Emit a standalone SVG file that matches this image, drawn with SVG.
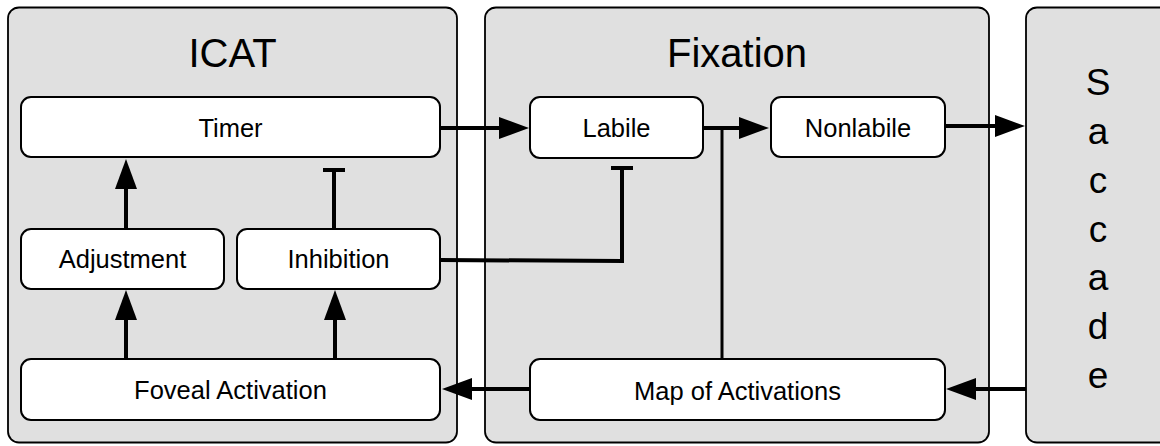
<svg xmlns="http://www.w3.org/2000/svg" width="1160" height="446" viewBox="0 0 1160 446">
  <style>
    .panel { fill: #e0e0e0; stroke: #000; stroke-width: 1.8; }
    .node { fill: #fff; stroke: #000; stroke-width: 2; }
    .title { font-family: "Liberation Sans", Arial, Helvetica, sans-serif; font-size: 40px; fill: #000; text-anchor: middle; }
    .letters { font-family: "Liberation Sans", Arial, Helvetica, sans-serif; font-size: 37px; fill: #000; text-anchor: middle; }
    .label { font-family: "Liberation Sans", Arial, Helvetica, sans-serif; font-size: 25.5px; fill: #000; text-anchor: middle; }
    .wire { fill: none; stroke: #000; stroke-width: 4; }
    .excite { marker-end: url(#arrow); }
    .inhibit { marker-end: url(#bar); }
  </style>
  <defs>
    <marker id="arrow" markerUnits="userSpaceOnUse" markerWidth="30" markerHeight="22" refX="2" refY="11" orient="auto" overflow="visible">
      <path d="M0,0 L30,11 L0,22 z" fill="#000"/>
    </marker>
    <marker id="bar" markerUnits="userSpaceOnUse" markerWidth="4" markerHeight="22" refX="2" refY="11" orient="auto" overflow="visible">
      <path d="M0,0 H4 V22 H0 z" fill="#000"/>
    </marker>
  </defs>

  <!-- panels -->
  <g id="icat">
    <rect class="panel" x="8" y="7.5" width="449" height="435" rx="11"/>
    <text class="title" x="232.5" y="66.5">ICAT</text>
  </g>
  <g id="fixation">
    <rect class="panel" x="485" y="7.5" width="504" height="435" rx="11"/>
    <text class="title" x="737" y="66.5">Fixation</text>
  </g>
  <g id="saccade">
    <rect class="panel" x="1026" y="7.5" width="150" height="435" rx="11"/>
    <!-- one letter per line, stacked vertically -->
    <text class="letters" x="1098" y="95">S</text>
    <text class="letters" x="1098" y="144">a</text>
    <text class="letters" x="1098" y="193">c</text>
    <text class="letters" x="1098" y="242">c</text>
    <text class="letters" x="1098" y="290">a</text>
    <text class="letters" x="1098" y="339">d</text>
    <text class="letters" x="1098" y="388">e</text>
  </g>

  <!-- ICAT nodes -->
  <g id="timer">
    <rect class="node" x="21" y="97" width="419" height="60" rx="10"/>
    <text class="label" x="230.5" y="136.5">Timer</text>
  </g>
  <g id="adjustment">
    <rect class="node" x="21" y="229" width="203" height="60" rx="10"/>
    <text class="label" x="122.5" y="267.5">Adjustment</text>
  </g>
  <g id="inhibition">
    <rect class="node" x="237" y="229" width="203" height="60" rx="10"/>
    <text class="label" x="338.5" y="267.5">Inhibition</text>
  </g>
  <g id="foveal-activation">
    <rect class="node" x="21" y="359" width="419" height="61" rx="10"/>
    <text class="label" x="230.5" y="399">Foveal Activation</text>
  </g>

  <!-- Fixation nodes -->
  <g id="labile">
    <rect class="node" x="530" y="97" width="173" height="61" rx="10"/>
    <text class="label" x="616.5" y="136.5">Labile</text>
  </g>
  <g id="nonlabile">
    <rect class="node" x="771" y="97" width="174" height="60" rx="10"/>
    <text class="label" x="858" y="136.5">Nonlabile</text>
  </g>
  <g id="map-of-activations">
    <rect class="node" x="530" y="359" width="415" height="61" rx="10"/>
    <text class="label" x="737.5" y="399.5">Map of Activations</text>
  </g>

  <!-- connectors -->
  <g id="connectors">
    <line class="wire excite" x1="440" y1="128" x2="501" y2="128"/>
    <line class="wire excite" x1="703" y1="128" x2="741" y2="128"/>
    <line class="wire excite" x1="945" y1="126" x2="997" y2="126"/>
    <line class="wire excite" x1="126" y1="229" x2="126" y2="187"/>
    <line class="wire excite" x1="126" y1="359" x2="126" y2="318"/>
    <line class="wire excite" x1="335" y1="359" x2="335" y2="318"/>
    <line class="wire excite" x1="530" y1="389" x2="470" y2="389"/>
    <line class="wire excite" x1="1026" y1="389" x2="974" y2="389"/>
    <line class="wire inhibit" x1="334" y1="229" x2="334" y2="170"/>
    <polyline class="wire inhibit" points="440,260 622,261 622,168"/>
    <line class="wire" style="stroke-width:3" x1="722" y1="128" x2="722" y2="359"/>
  </g>
</svg>
